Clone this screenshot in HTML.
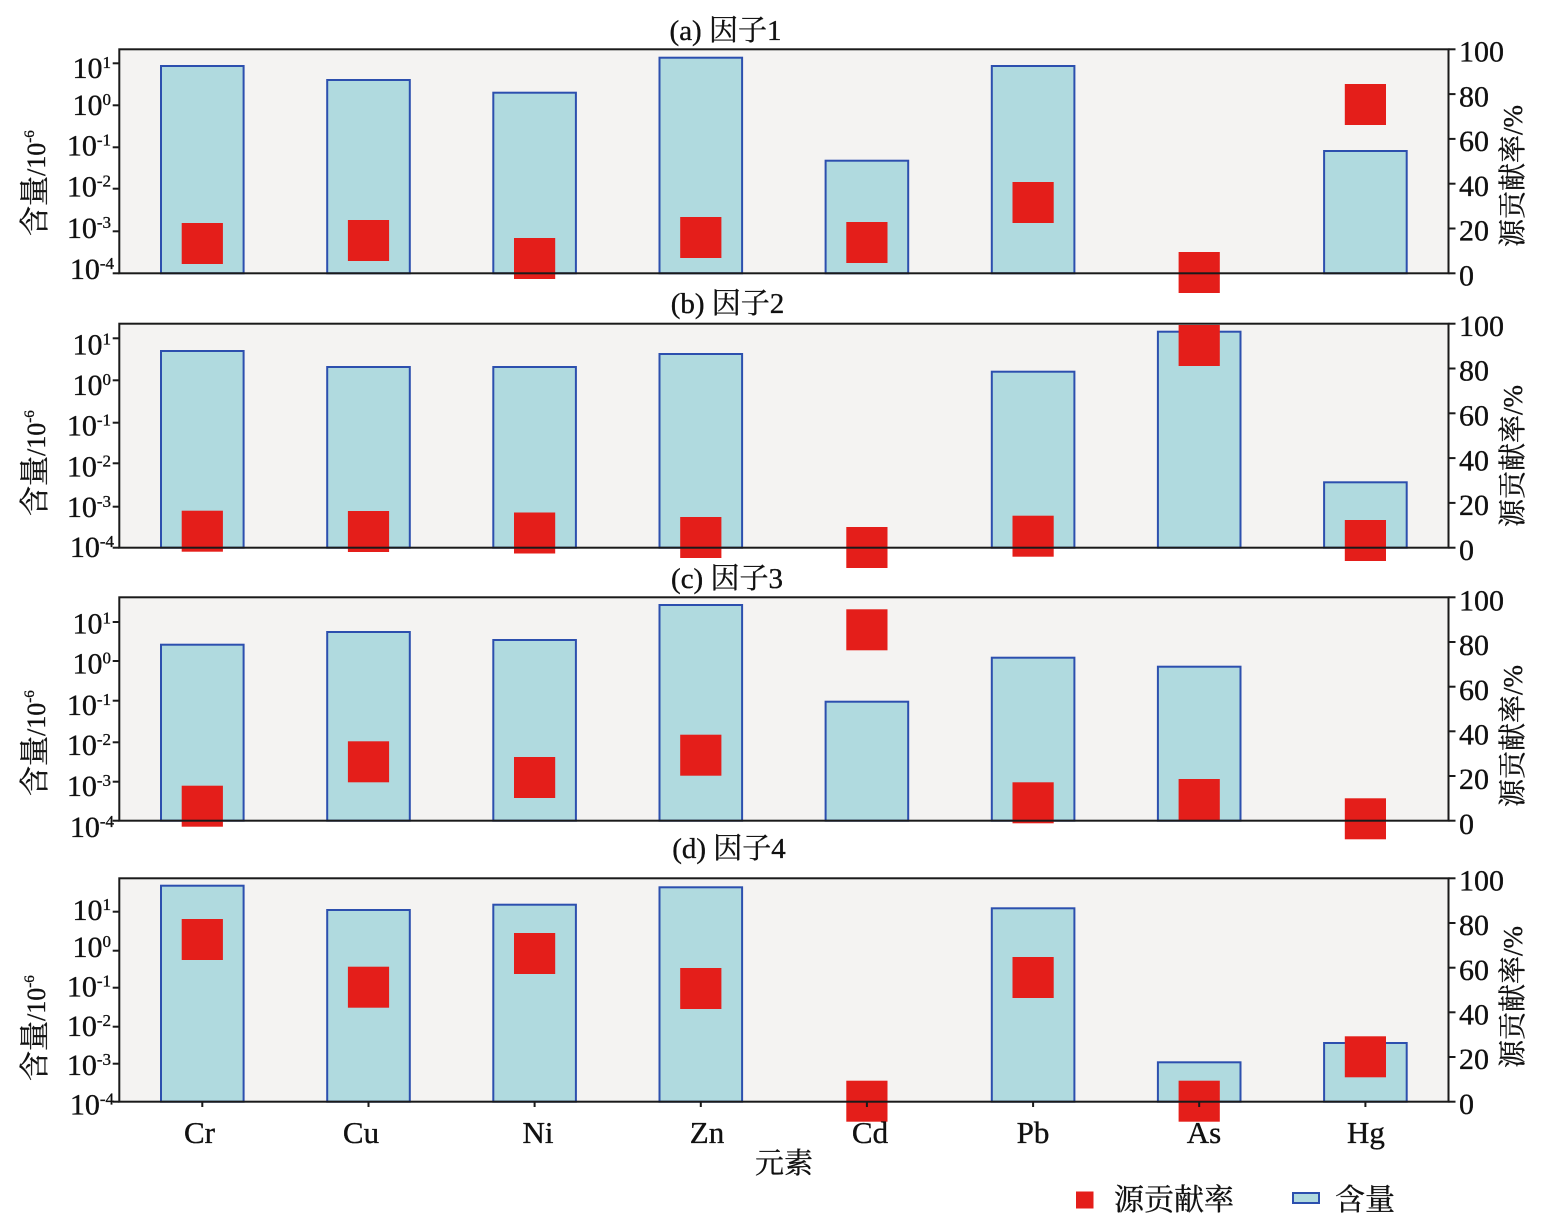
<!DOCTYPE html>
<html>
<head>
<meta charset="utf-8">
<style>
html,body{margin:0;padding:0;background:#fff;}
body{width:1547px;height:1224px;overflow:hidden;}
svg{display:block;}
text{font-family:"Liberation Serif","Noto Serif CJK SC",serif;fill:#111;stroke:#111;stroke-width:0.35;}
.bar{fill:#b0dadf;stroke:#2c4fae;stroke-width:2;}
.red{fill:#e41e1a;}
.frame{fill:none;stroke:#1a1a1a;stroke-width:2;}
.bg{fill:#f4f3f2;}
.tk{stroke:#1a1a1a;stroke-width:2;}
</style>
</head>
<body>
<svg width="1547" height="1224" viewBox="0 0 1547 1224" xmlns="http://www.w3.org/2000/svg">
<rect x="0" y="0" width="1547" height="1224" fill="#fff"/>

<!-- ================= PANEL A ================= -->
<rect class="bg" x="119.3" y="49.3" width="1329.2" height="224"/>
<rect class="bar" x="161.0" y="66" width="82.6" height="207.3"/>
<rect class="bar" x="327.2" y="80" width="82.6" height="193.3"/>
<rect class="bar" x="493.3" y="92.7" width="82.6" height="180.6"/>
<rect class="bar" x="659.5" y="57.7" width="82.6" height="215.6"/>
<rect class="bar" x="825.6" y="160.7" width="82.6" height="112.6"/>
<rect class="bar" x="991.8" y="66" width="82.6" height="207.3"/>
<rect class="bar" x="1324.1" y="151" width="82.6" height="122.3"/>
<rect class="red" x="181.7" y="223" width="41.2" height="41"/>
<rect class="red" x="347.9" y="220" width="41.2" height="41"/>
<rect class="red" x="514.0" y="238" width="41.2" height="41"/>
<rect class="red" x="680.2" y="217" width="41.2" height="41"/>
<rect class="red" x="846.3" y="222" width="41.2" height="41"/>
<rect class="red" x="1012.5" y="182" width="41.2" height="41"/>
<rect class="red" x="1178.6" y="252" width="41.2" height="41"/>
<rect class="red" x="1344.8" y="84" width="41.2" height="41"/>
<rect class="frame" x="119.3" y="49.3" width="1329.2" height="224"/>
<g class="tk">
<line x1="112.7" y1="63.3" x2="119.3" y2="63.3"/>
<line x1="112.7" y1="105.3" x2="119.3" y2="105.3"/>
<line x1="112.7" y1="147.3" x2="119.3" y2="147.3"/>
<line x1="112.7" y1="188.7" x2="119.3" y2="188.7"/>
<line x1="112.7" y1="231.3" x2="119.3" y2="231.3"/>
<line x1="112.7" y1="273.3" x2="119.3" y2="273.3"/>
<line x1="1448.5" y1="49.3" x2="1455.5" y2="49.3"/>
<line x1="1448.5" y1="94.1" x2="1455.5" y2="94.1"/>
<line x1="1448.5" y1="138.9" x2="1455.5" y2="138.9"/>
<line x1="1448.5" y1="183.7" x2="1455.5" y2="183.7"/>
<line x1="1448.5" y1="228.5" x2="1455.5" y2="228.5"/>
<line x1="1448.5" y1="273.3" x2="1455.5" y2="273.3"/>
</g>
<g font-size="30" text-anchor="end">
<text x="111" y="78">10<tspan font-size="17" dy="-10">1</tspan></text>
<text x="111" y="114.8">10<tspan font-size="17" dy="-10">0</tspan></text>
<text x="111" y="155.5">10<tspan font-size="17" dy="-10">-1</tspan></text>
<text x="111" y="196.7">10<tspan font-size="17" dy="-10">-2</tspan></text>
<text x="111" y="238">10<tspan font-size="17" dy="-10">-3</tspan></text>
<text x="114" y="279">10<tspan font-size="17" dy="-10">-4</tspan></text>
</g>
<g font-size="30">
<text x="1459" y="61.5">100</text>
<text x="1459" y="106.3">80</text>
<text x="1459" y="151.1">60</text>
<text x="1459" y="195.9">40</text>
<text x="1459" y="240.7">20</text>
<text x="1459" y="285.5">0</text>
</g>
<text x="725.5" y="40" font-size="29" text-anchor="middle">(a) 因子1</text>
<text transform="translate(45,236) rotate(-90)" font-size="30">含量<tspan font-size="26">/10</tspan><tspan font-size="15" dy="-11">-6</tspan></text>
<text transform="translate(1522,247) rotate(-90)" font-size="28">源贡献率<tspan font-size="27">/%</tspan></text>

<!-- ================= PANEL B ================= -->
<rect class="bg" x="119.3" y="323.7" width="1329.2" height="224"/>
<rect class="bar" x="161.0" y="351" width="82.6" height="196.7"/>
<rect class="bar" x="327.2" y="367" width="82.6" height="180.7"/>
<rect class="bar" x="493.3" y="367" width="82.6" height="180.7"/>
<rect class="bar" x="659.5" y="354" width="82.6" height="193.7"/>
<rect class="bar" x="991.8" y="371.7" width="82.6" height="176"/>
<rect class="bar" x="1157.9" y="331.7" width="82.6" height="216"/>
<rect class="bar" x="1324.1" y="482.3" width="82.6" height="65.4"/>
<rect class="red" x="181.7" y="510.7" width="41.2" height="41"/>
<rect class="red" x="347.9" y="511" width="41.2" height="41"/>
<rect class="red" x="514.0" y="512.5" width="41.2" height="41"/>
<rect class="red" x="680.2" y="517" width="41.2" height="41"/>
<rect class="red" x="846.3" y="527" width="41.2" height="41"/>
<rect class="red" x="1012.5" y="515.7" width="41.2" height="41"/>
<rect class="red" x="1178.6" y="325" width="41.2" height="41"/>
<rect class="red" x="1344.8" y="520" width="41.2" height="41"/>
<rect class="frame" x="119.3" y="323.7" width="1329.2" height="224"/>
<g class="tk">
<line x1="112.7" y1="338.3" x2="119.3" y2="338.3"/>
<line x1="112.7" y1="380.3" x2="119.3" y2="380.3"/>
<line x1="112.7" y1="422.7" x2="119.3" y2="422.7"/>
<line x1="112.7" y1="463.3" x2="119.3" y2="463.3"/>
<line x1="112.7" y1="506.7" x2="119.3" y2="506.7"/>
<line x1="112.7" y1="547.7" x2="119.3" y2="547.7"/>
<line x1="1448.5" y1="323.7" x2="1455.5" y2="323.7"/>
<line x1="1448.5" y1="368.5" x2="1455.5" y2="368.5"/>
<line x1="1448.5" y1="413.3" x2="1455.5" y2="413.3"/>
<line x1="1448.5" y1="458.1" x2="1455.5" y2="458.1"/>
<line x1="1448.5" y1="502.9" x2="1455.5" y2="502.9"/>
<line x1="1448.5" y1="547.7" x2="1455.5" y2="547.7"/>
</g>
<g font-size="30" text-anchor="end">
<text x="111" y="354.7">10<tspan font-size="17" dy="-10">1</tspan></text>
<text x="111" y="395">10<tspan font-size="17" dy="-10">0</tspan></text>
<text x="111" y="435.5">10<tspan font-size="17" dy="-10">-1</tspan></text>
<text x="111" y="476.7">10<tspan font-size="17" dy="-10">-2</tspan></text>
<text x="111" y="517">10<tspan font-size="17" dy="-10">-3</tspan></text>
<text x="114" y="557">10<tspan font-size="17" dy="-10">-4</tspan></text>
</g>
<g font-size="30">
<text x="1459" y="335.9">100</text>
<text x="1459" y="380.7">80</text>
<text x="1459" y="425.5">60</text>
<text x="1459" y="470.3">40</text>
<text x="1459" y="515.1">20</text>
<text x="1459" y="559.9">0</text>
</g>
<text x="727.5" y="313" font-size="29" text-anchor="middle">(b) 因子2</text>
<text transform="translate(45,516) rotate(-90)" font-size="30">含量<tspan font-size="26">/10</tspan><tspan font-size="15" dy="-11">-6</tspan></text>
<text transform="translate(1522,527) rotate(-90)" font-size="28">源贡献率<tspan font-size="27">/%</tspan></text>

<!-- ================= PANEL C ================= -->
<rect class="bg" x="119.3" y="597.3" width="1329.2" height="223.4"/>
<rect class="bar" x="161.0" y="644.7" width="82.6" height="176"/>
<rect class="bar" x="327.2" y="632" width="82.6" height="188.7"/>
<rect class="bar" x="493.3" y="640" width="82.6" height="180.7"/>
<rect class="bar" x="659.5" y="605" width="82.6" height="215.7"/>
<rect class="bar" x="825.6" y="701.7" width="82.6" height="119"/>
<rect class="bar" x="991.8" y="657.7" width="82.6" height="163"/>
<rect class="bar" x="1157.9" y="666.7" width="82.6" height="154"/>
<rect class="red" x="181.7" y="785.7" width="41.2" height="41"/>
<rect class="red" x="347.9" y="741.3" width="41.2" height="41"/>
<rect class="red" x="514.0" y="757" width="41.2" height="41"/>
<rect class="red" x="680.2" y="734.7" width="41.2" height="41"/>
<rect class="red" x="846.3" y="609.3" width="41.2" height="41"/>
<rect class="red" x="1012.5" y="782.3" width="41.2" height="41"/>
<rect class="red" x="1178.6" y="779" width="41.2" height="41"/>
<rect class="red" x="1344.8" y="798.3" width="41.2" height="41"/>
<rect class="frame" x="119.3" y="597.3" width="1329.2" height="223.4"/>
<g class="tk">
<line x1="112.7" y1="622" x2="119.3" y2="622"/>
<line x1="112.7" y1="661" x2="119.3" y2="661"/>
<line x1="112.7" y1="700.7" x2="119.3" y2="700.7"/>
<line x1="112.7" y1="742.3" x2="119.3" y2="742.3"/>
<line x1="112.7" y1="781.7" x2="119.3" y2="781.7"/>
<line x1="112.7" y1="820.7" x2="119.3" y2="820.7"/>
<line x1="1448.5" y1="597.3" x2="1455.5" y2="597.3"/>
<line x1="1448.5" y1="642" x2="1455.5" y2="642"/>
<line x1="1448.5" y1="686.7" x2="1455.5" y2="686.7"/>
<line x1="1448.5" y1="731.3" x2="1455.5" y2="731.3"/>
<line x1="1448.5" y1="776" x2="1455.5" y2="776"/>
<line x1="1448.5" y1="820.7" x2="1455.5" y2="820.7"/>
</g>
<g font-size="30" text-anchor="end">
<text x="111" y="633.3">10<tspan font-size="17" dy="-10">1</tspan></text>
<text x="111" y="673.7">10<tspan font-size="17" dy="-10">0</tspan></text>
<text x="111" y="715">10<tspan font-size="17" dy="-10">-1</tspan></text>
<text x="111" y="755">10<tspan font-size="17" dy="-10">-2</tspan></text>
<text x="111" y="796">10<tspan font-size="17" dy="-10">-3</tspan></text>
<text x="114" y="837">10<tspan font-size="17" dy="-10">-4</tspan></text>
</g>
<g font-size="30">
<text x="1459" y="610.5">100</text>
<text x="1459" y="655.2">80</text>
<text x="1459" y="699.9">60</text>
<text x="1459" y="744.5">40</text>
<text x="1459" y="789.2">20</text>
<text x="1459" y="833.9">0</text>
</g>
<text x="727" y="588" font-size="29" text-anchor="middle">(c) 因子3</text>
<text transform="translate(45,796) rotate(-90)" font-size="30">含量<tspan font-size="26">/10</tspan><tspan font-size="15" dy="-11">-6</tspan></text>
<text transform="translate(1522,807) rotate(-90)" font-size="28">源贡献率<tspan font-size="27">/%</tspan></text>

<!-- ================= PANEL D ================= -->
<rect class="bg" x="119.3" y="878.3" width="1329.2" height="223.4"/>
<rect class="bar" x="161.0" y="885.7" width="82.6" height="216"/>
<rect class="bar" x="327.2" y="910" width="82.6" height="191.7"/>
<rect class="bar" x="493.3" y="904.7" width="82.6" height="197"/>
<rect class="bar" x="659.5" y="887.3" width="82.6" height="214.4"/>
<rect class="bar" x="991.8" y="908.3" width="82.6" height="193.4"/>
<rect class="bar" x="1157.9" y="1062.3" width="82.6" height="39.4"/>
<rect class="bar" x="1324.1" y="1043" width="82.6" height="58.7"/>
<rect class="red" x="181.7" y="919" width="41.2" height="41"/>
<rect class="red" x="347.9" y="966.7" width="41.2" height="41"/>
<rect class="red" x="514.0" y="933" width="41.2" height="41"/>
<rect class="red" x="680.2" y="968" width="41.2" height="41"/>
<rect class="red" x="846.3" y="1080.7" width="41.2" height="41"/>
<rect class="red" x="1012.5" y="957" width="41.2" height="41"/>
<rect class="red" x="1178.6" y="1080.7" width="41.2" height="41"/>
<rect class="red" x="1344.8" y="1036.3" width="41.2" height="41"/>
<rect class="frame" x="119.3" y="878.3" width="1329.2" height="223.4"/>
<g class="tk">
<line x1="112.7" y1="911.7" x2="119.3" y2="911.7"/>
<line x1="112.7" y1="950.7" x2="119.3" y2="950.7"/>
<line x1="112.7" y1="987.7" x2="119.3" y2="987.7"/>
<line x1="112.7" y1="1026.7" x2="119.3" y2="1026.7"/>
<line x1="112.7" y1="1063.7" x2="119.3" y2="1063.7"/>
<line x1="112.7" y1="1101.7" x2="119.3" y2="1101.7"/>
<line x1="1448.5" y1="878.3" x2="1455.5" y2="878.3"/>
<line x1="1448.5" y1="923" x2="1455.5" y2="923"/>
<line x1="1448.5" y1="967.7" x2="1455.5" y2="967.7"/>
<line x1="1448.5" y1="1012.3" x2="1455.5" y2="1012.3"/>
<line x1="1448.5" y1="1057" x2="1455.5" y2="1057"/>
<line x1="1448.5" y1="1101.7" x2="1455.5" y2="1101.7"/>
<line x1="202.3" y1="1101.7" x2="202.3" y2="1107"/>
<line x1="368.5" y1="1101.7" x2="368.5" y2="1107"/>
<line x1="534.6" y1="1101.7" x2="534.6" y2="1107"/>
<line x1="700.8" y1="1101.7" x2="700.8" y2="1107"/>
<line x1="866.9" y1="1101.7" x2="866.9" y2="1107"/>
<line x1="1033.1" y1="1101.7" x2="1033.1" y2="1107"/>
<line x1="1199.2" y1="1101.7" x2="1199.2" y2="1107"/>
<line x1="1365.4" y1="1101.7" x2="1365.4" y2="1107"/>
</g>
<g font-size="30" text-anchor="end">
<text x="111" y="920">10<tspan font-size="17" dy="-10">1</tspan></text>
<text x="111" y="957">10<tspan font-size="17" dy="-10">0</tspan></text>
<text x="111" y="996.5">10<tspan font-size="17" dy="-10">-1</tspan></text>
<text x="111" y="1036">10<tspan font-size="17" dy="-10">-2</tspan></text>
<text x="111" y="1075">10<tspan font-size="17" dy="-10">-3</tspan></text>
<text x="114" y="1114.5">10<tspan font-size="17" dy="-10">-4</tspan></text>
</g>
<g font-size="30">
<text x="1459" y="890.5">100</text>
<text x="1459" y="935.2">80</text>
<text x="1459" y="979.9">60</text>
<text x="1459" y="1024.5">40</text>
<text x="1459" y="1069.2">20</text>
<text x="1459" y="1113.9">0</text>
</g>
<text x="729" y="858" font-size="29" text-anchor="middle">(d) 因子4</text>
<text transform="translate(45,1081) rotate(-90)" font-size="30">含量<tspan font-size="26">/10</tspan><tspan font-size="15" dy="-11">-6</tspan></text>
<text transform="translate(1522,1068) rotate(-90)" font-size="28">源贡献率<tspan font-size="27">/%</tspan></text>

<!-- x labels -->
<g font-size="31" text-anchor="middle">
<text x="199.5" y="1143">Cr</text>
<text x="361" y="1143">Cu</text>
<text x="538" y="1143">Ni</text>
<text x="707" y="1143">Zn</text>
<text x="870" y="1143">Cd</text>
<text x="1033" y="1143">Pb</text>
<text x="1204" y="1143">As</text>
<text x="1366" y="1143">Hg</text>
</g>
<text x="784" y="1173" font-size="29" text-anchor="middle">元素</text>

<!-- legend -->
<rect class="red" x="1076" y="1191.5" width="17.5" height="17"/>
<text x="1114" y="1210" font-size="30">源贡献率</text>
<rect x="1293" y="1193" width="26" height="10" fill="#b0dadf" stroke="#2c4fae" stroke-width="2"/>
<text x="1335" y="1210" font-size="30">含量</text>
</svg>
</body>
</html>
